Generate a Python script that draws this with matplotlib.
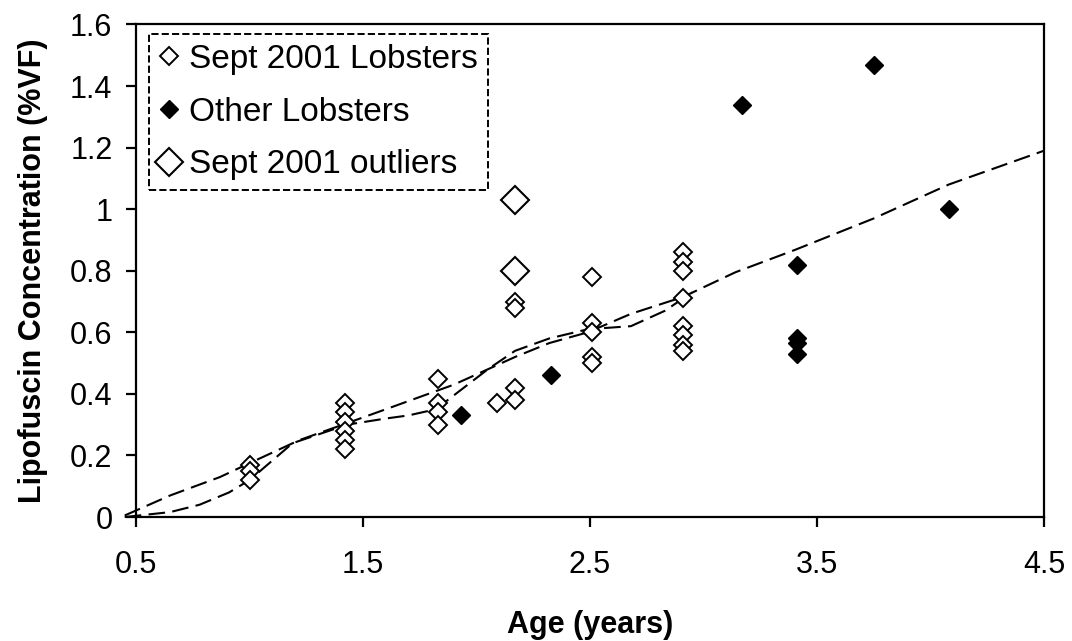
import matplotlib
matplotlib.use("Agg")
import matplotlib.pyplot as plt

plt.rcParams['font.family'] = ['Liberation Sans', 'DejaVu Sans']

# Sept 2001 lobsters (open diamonds)
sept_x = [1.00, 1.00, 1.00,
          1.42, 1.42, 1.42, 1.42, 1.42, 1.42,
          1.83, 1.83, 1.83, 1.83,
          2.09,
          2.17, 2.17, 2.17, 2.17,
          2.51, 2.51, 2.51, 2.51, 2.51,
          2.91, 2.91, 2.91, 2.91, 2.91, 2.91, 2.91, 2.91]
sept_y = [0.17, 0.15, 0.12,
          0.37, 0.34, 0.31, 0.28, 0.25, 0.22,
          0.45, 0.37, 0.34, 0.30,
          0.37,
          0.70, 0.68, 0.42, 0.38,
          0.78, 0.63, 0.60, 0.52, 0.50,
          0.86, 0.83, 0.80, 0.71, 0.62, 0.59, 0.56, 0.54]

# Other lobsters (filled diamonds)
other_x = [1.93, 2.33, 3.17, 3.41, 3.41, 3.41, 3.41, 3.75, 4.08]
other_y = [0.33, 0.46, 1.34, 0.82, 0.58, 0.565, 0.53, 1.47, 1.00]

# Sept 2001 outliers (large open diamonds)
outl_x = [2.17, 2.17]
outl_y = [1.03, 0.80]

# dashed curves
trend_x = [0.45, 0.65, 0.87, 1.0, 1.22, 1.43, 1.6, 1.75, 1.9, 2.05, 2.17, 2.32,
           2.49, 2.68, 2.91, 3.14, 3.40, 3.75, 4.08, 4.5]
trend_y = [0.005, 0.07, 0.13, 0.175, 0.25, 0.305, 0.35, 0.39, 0.43, 0.48, 0.52, 0.565,
           0.60, 0.66, 0.715, 0.795, 0.867, 0.97, 1.08, 1.19]
mean_x = [0.45, 0.65, 0.78, 0.91, 1.0, 1.19, 1.43, 1.6, 1.7, 1.82, 2.05, 2.17,
          2.32, 2.49, 2.68, 2.83, 2.95]
mean_y = [0.0, 0.016, 0.04, 0.08, 0.12, 0.24, 0.30, 0.32, 0.33, 0.35, 0.48, 0.54,
          0.58, 0.61, 0.62, 0.67, 0.73]

fig = plt.figure(figsize=(10.72, 6.41), dpi=100)
ax = fig.add_axes([0.1269, 0.1934, 0.847, 0.7684])

dash = (0, (8, 3.5))
ax.plot(trend_x, trend_y, color='black', lw=1.5, linestyle=dash, clip_on=False, zorder=2)
ax.plot(mean_x, mean_y, color='black', lw=1.5, linestyle=dash, clip_on=False, zorder=2)

ax.plot(sept_x, sept_y, linestyle='none', marker='D', ms=9.5, mfc='white', mec='black',
        mew=1.4, label='Sept 2001 Lobsters', zorder=3)
ax.plot(other_x, other_y, linestyle='none', marker='D', ms=9.5, mfc='black', mec='black',
        mew=1.0, label='Other Lobsters', zorder=3)
ax.plot(outl_x, outl_y, linestyle='none', marker='D', ms=14.5, mfc='white', mec='black',
        mew=1.5, label='Sept 2001 outliers', zorder=3)

ax.set_xlim(0.5, 4.5)
ax.set_ylim(0, 1.6)
ax.set_xticks([0.5, 1.5, 2.5, 3.5, 4.5])
ax.set_xticklabels(['0.5', '1.5', '2.5', '3.5', '4.5'])
ax.set_yticks([0, 0.2, 0.4, 0.6, 0.8, 1.0, 1.2, 1.4, 1.6])
ax.set_yticklabels(['0', '0.2', '0.4', '0.6', '0.8', '1', '1.2', '1.4', '1.6'])

for s in ax.spines.values():
    s.set_linewidth(1.6)
    s.set_color('black')
ax.tick_params(axis='x', direction='out', length=7, width=1.6, labelsize=22, pad=17)
ax.tick_params(axis='y', direction='out', length=7, width=1.6, labelsize=22, pad=10)

ax.set_xlabel('Age (years)', fontsize=22, fontweight='bold', labelpad=21)
ax.set_ylabel('Lipofuscin Concentration (%VF)', fontsize=22, fontweight='bold', labelpad=16)

leg = ax.legend(loc='upper left', bbox_to_anchor=(0.014, 0.981), borderaxespad=0,
                fontsize=24, frameon=True, fancybox=False, handlelength=0.6,
                handletextpad=0.3, labelspacing=0.65, borderpad=0.3)
frame = leg.get_frame()
frame.set_edgecolor('black')
frame.set_linestyle('--')
frame.set_linewidth(1.4)
frame.set_alpha(1)

fig.savefig('out.png', dpi=100)
